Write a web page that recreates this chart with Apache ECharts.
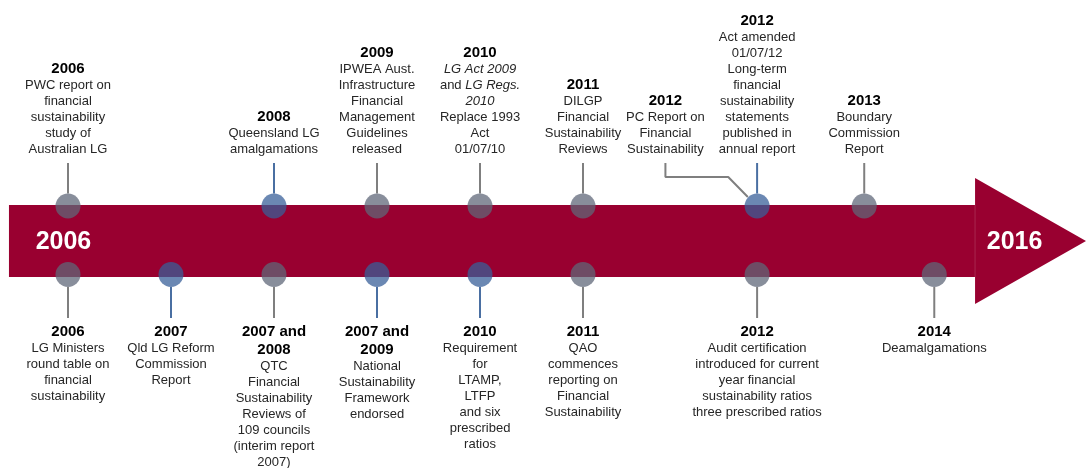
<!DOCTYPE html>
<html>
<head>
<meta charset="utf-8">
<script src="https://cdn.jsdelivr.net/npm/echarts@6/dist/echarts.min.js"></script>
<style>
html, body { margin: 0; padding: 0; background: #fff; }
#main { width: 1086px; height: 468px; }
</style>
</head>
<body>
<div id="main"></div>
<script>
// timeline slots (1 slot = one step along the arrow), y = offset from the band centre

// events above the band
var upPos = [0, 2, 3, 4, 5, 6.69, 7.73];
var upYear = ['2006', '2008', '2009', '2010', '2011', '2012', '2013'];
var upText = [
    'PWC report on\nfinancial\nsustainability\nstudy of\nAustralian LG',
    'Queensland LG\namalgamations',
    'IPWEA Aust.\nInfrastructure\nFinancial\nManagement\nGuidelines\nreleased',
    '{i|LG Act 2009}\n{t|and }{i|LG Regs.}\n{i|2010}\n{t|Replace 1993\nAct\n01/07/10}',
    'DILGP\nFinancial\nSustainability\nReviews',
    'Act amended\n01/07/12\nLong-term\nfinancial\nsustainability\nstatements\npublished in\nannual report',
    'Boundary\nCommission\nReport'
];
var upBlue = [0, 1, 0, 0, 0, 1, 0];

// events below the band
var downPos = [0, 1, 2, 3, 4, 5, 6.69, 8.41];
var downYear = ['2006', '2007', '2007 and\n2008', '2007 and\n2009', '2010', '2011', '2012', '2014'];
var downText = [
    'LG Ministers\nround table on\nfinancial\nsustainability',
    'Qld LG Reform\nCommission\nReport',
    'QTC\nFinancial\nSustainability\nReviews of\n109 councils\n(interim report\n2007)',
    'National\nSustainability\nFramework\nendorsed',
    'Requirement\nfor\nLTAMP,\nLTFP\nand six\nprescribed\nratios',
    'QAO\ncommences\nreporting on\nFinancial\nSustainability',
    'Audit certification\nintroduced for current\nyear financial\nsustainability ratios\nthree prescribed ratios',
    'Deamalgamations'
];
var downBlue = [0, 1, 0, 1, 1, 0, 0, 0];

// side note joined to the 2012 circle by an elbow line
var notePos = 5.8;
var noteYear = '2012';
var noteText = 'PC Report on\nFinancial\nSustainability';
var noteLineX = [5.8, 5.8, 6.41, 6.6];
var noteLineY = [78, 64, 64, 44];

// the arrow outline
var arrowX = [-0.573, 8.806, 8.806, 9.883, 8.806, 8.806, -0.573];
var arrowY = [36, 36, 63, 0, -63, -36, -36];

var bandText = ['2006', '2016'];
var bandTextPos = [-0.044, 9.19];

var UP_DOT = 35, DOWN_DOT = -33.5, UP_END = 78, DOWN_END = -77;
var GRAY = '#7f7f7f', BLUE = '#4a6fa2';
var DOT_GRAY = 'rgba(95,103,120,0.74)', DOT_BLUE = 'rgba(55,95,153,0.74)';
var FONT = '"Liberation Sans", Arial, sans-serif';

function rich(year, text) {
    var body = text.indexOf('{') === 0 ? text : '{t|' + text + '}';
    return '{y|' + year + '}\n' + body;
}

var stems = [], dots = [], upLabels = [], downLabels = [];
for (var i = 0; i < upPos.length; i++) {
    stems.push([upPos[i], UP_END, UP_DOT, upBlue[i]]);
    dots.push({ value: [upPos[i], UP_DOT], itemStyle: { color: upBlue[i] ? DOT_BLUE : DOT_GRAY } });
    upLabels.push({ value: [upPos[i], UP_END], txt: rich(upYear[i], upText[i]) });
}
upLabels.push({ value: [notePos, noteLineY[0]], txt: rich(noteYear, noteText) });
for (var j = 0; j < downPos.length; j++) {
    stems.push([downPos[j], DOWN_END, DOWN_DOT, downBlue[j]]);
    dots.push({ value: [downPos[j], DOWN_DOT], itemStyle: { color: downBlue[j] ? DOT_BLUE : DOT_GRAY } });
    downLabels.push({ value: [downPos[j], DOWN_END], txt: rich(downYear[j], downText[j]) });
}

var richStyle = {
    y: { fontSize: 15, fontWeight: 'bold', color: '#000', lineHeight: 18, align: 'center', fontFamily: FONT },
    t: { fontSize: 13, color: '#262626', lineHeight: 16, align: 'center', fontFamily: FONT },
    i: { fontSize: 13, color: '#262626', lineHeight: 16, fontStyle: 'italic', align: 'center', fontFamily: FONT }
};

var myChart = echarts.init(document.getElementById('main'));
var option = {
    animation: false,
    backgroundColor: '#fff',
    grid: { left: 0, right: 0, top: 0, bottom: 0 },
    xAxis: { type: 'value', min: -0.66, max: 9.883, show: false },
    yAxis: { type: 'value', min: -227, max: 241, show: false },
    series: [{
        type: 'custom',
        clip: false,
        z: 1,
        data: [[0, 0]],
        renderItem: function (params, api) {
            var pts = arrowX.map(function (x, k) { return api.coord([x, arrowY[k]]); });
            var a = api.coord([arrowX[1], arrowY[1]]);
            var b = api.coord([arrowX[5], arrowY[5]]);
            return {
                type: 'group',
                children: [{
                    type: 'polygon',
                    shape: { points: pts },
                    style: { fill: '#990030' }
                }, {
                    type: 'line',
                    shape: { x1: a[0], y1: a[1], x2: b[0], y2: b[1] },
                    style: { stroke: 'rgba(255,255,255,0.15)', lineWidth: 1 }
                }]
            };
        }
    }, {
        // white years inside the band
        type: 'custom',
        z: 5,
        data: bandText.map(function (t, k) { return [bandTextPos[k], 0]; }),
        renderItem: function (params, api) {
            var p = api.coord([api.value(0), api.value(1)]);
            return {
                type: 'text',
                x: p[0],
                y: p[1] + 1,
                style: {
                    text: bandText[params.dataIndex],
                    fill: '#fff',
                    font: 'bold 25px ' + FONT,
                    align: 'center',
                    verticalAlign: 'middle'
                }
            };
        }
    }, {
        type: 'custom',
        z: 2,
        data: stems,
        renderItem: function (params, api) {
            var end = api.coord([api.value(0), api.value(1)]);
            var c = api.coord([api.value(0), api.value(2)]);
            var dir = end[1] < c[1] ? -1 : 1;
            return {
                type: 'line',
                shape: { x1: end[0], y1: end[1], x2: c[0], y2: c[1] + dir * 12.5 },
                style: { stroke: api.value(3) ? BLUE : GRAY, lineWidth: 2 }
            };
        }
    }, {
        type: 'line',
        z: 2,
        symbol: 'none',
        data: noteLineX.map(function (x, k) { return [x, noteLineY[k]]; }),
        lineStyle: { color: GRAY, width: 2 }
    }, {
        type: 'scatter',
        z: 3,
        symbolSize: 25,
        itemStyle: { opacity: 1 },
        data: dots
    }, {
        type: 'scatter',
        z: 4,
        symbolSize: 1,
        itemStyle: { color: 'rgba(0,0,0,0)', opacity: 1 },
        data: upLabels,
        label: {
            show: true,
            position: 'top',
            distance: 5,
            align: 'center',
            formatter: function (p) { return p.data.txt; },
            rich: richStyle
        }
    }, {
        type: 'scatter',
        z: 4,
        symbolSize: 1,
        itemStyle: { color: 'rgba(0,0,0,0)', opacity: 1 },
        data: downLabels,
        label: {
            show: true,
            position: 'bottom',
            distance: 4,
            align: 'center',
            formatter: function (p) { return p.data.txt; },
            rich: richStyle
        }
    }]
};
myChart.setOption(option);
</script>
</body>
</html>
